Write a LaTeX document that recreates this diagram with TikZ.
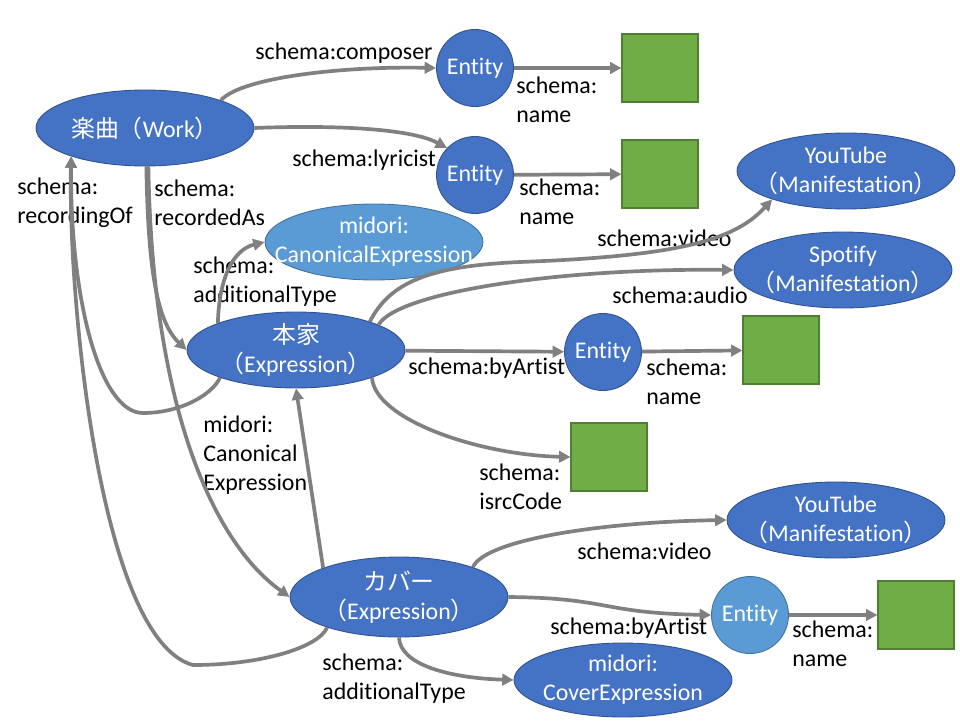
\documentclass[tikz,border=0pt]{standalone}
\usepackage{fontspec}
\setmainfont{Carlito}[Ligatures=NoCommon]
\newfontfamily\jpfont{Noto Sans CJK JP}
\usetikzlibrary{arrows.meta,shapes.geometric}

\definecolor{nodeblue}{HTML}{4472C4}
\definecolor{paleblue}{HTML}{5B9BD5}
\definecolor{nodeedge}{HTML}{2F528F}
\definecolor{paleedge}{HTML}{41719C}
\definecolor{leafgreen}{HTML}{70AD47}
\definecolor{leafedge}{HTML}{507E32}
\definecolor{linkgray}{HTML}{808080}

\begin{document}
\begin{tikzpicture}[x=0.02cm,y=-0.02cm,font=\fontsize{13.6}{16.4}\selectfont,
  blob/.style={ellipse,fill=nodeblue,draw=nodeedge,line width=0.5pt,inner sep=0pt,minimum width=4.36cm,minimum height=1.52cm},
  pale/.style={blob,fill=paleblue,draw=paleedge},
  intxt/.style={text=white,align=center,inner sep=0pt},
  ent/.style={circle,fill=nodeblue,draw=nodeedge,line width=0.5pt,inner sep=0pt,minimum size=1.54cm,text=white},
  leaf/.style={rectangle,fill=leafgreen,draw=leafedge,line width=0.6pt,minimum width=1.52cm,minimum height=1.36cm},
  link/.style={draw=linkgray,line width=2.1pt,-{Triangle[length=6.5pt,width=6.5pt]}},
  lbl/.style={anchor=base west,align=left,inner sep=0pt}]
\useasboundingbox (0,0) rectangle (960,720);

\node[blob,label={[intxt]center:{{\jpfont 楽曲（}Work{\jpfont ）}}}] (work) at (145,128) {};
\node[ent] (ent1) at (475,68) {Entity};
\node[ent] (ent2) at (475,175) {Entity};
\node[leaf] (sq1) at (660,68) {};
\node[leaf] (sq2) at (660,174) {};
\node[pale,label={[intxt]center:{midori:\\CanonicalExpression}}] (canon) at (374,242) {};
\node[blob,label={[intxt]center:{{\jpfont 本家}\\{\jpfont （}Expression{\jpfont ）}}}] (honke) at (296,350) {};
\node[blob,label={[intxt]center:{YouTube\\{\jpfont （}Manifestation{\jpfont ）}}}] (yt1) at (846,171) {};
\node[blob,label={[intxt]center:{Spotify\\{\jpfont （}Manifestation{\jpfont ）}}}] (spot) at (843,270) {};
\node[ent] (ent3) at (603,352) {Entity};
\node[leaf] (sq3) at (781,350) {};
\node[leaf] (sq4) at (609,457) {};
\node[blob,label={[intxt]center:{YouTube\\{\jpfont （}Manifestation{\jpfont ）}}}] (yt2) at (836,520) {};
\node[blob,minimum height=1.6cm,label={[intxt]center:{{\jpfont カバー}\\{\jpfont （}Expression{\jpfont ）}}}] (cover) at (399,597) {};
\node[ent,fill=paleblue,draw=paleedge] (ent4) at (750,615) {Entity};
\node[leaf] (sq5) at (916,615) {};
\node[blob,minimum height=1.48cm,label={[intxt]center:{midori:\\CoverExpression}}] (coverx) at (623,680) {};

\node[lbl] (lcomp) at (255,59) {schema:composer};
\node[lbl] (llyr) at (292,166) {schema:lyricist};
\node[lbl] (lname1) at (516,122) {schema:\\name};
\node[lbl] (lname2) at (519,224) {schema:\\name};
\node[lbl] (lrecof) at (17,223) {schema:\\recordingOf};
\node[lbl] (lrecas) at (154,225) {schema:\\recordedAs};
\node[lbl] (ltype1) at (193,302) {schema:\\additionalType};
\node[lbl] (lvid1) at (597,246) {schema:video};
\node[lbl] (laud) at (612,303) {schema:audio};
\node[lbl] (lart1) at (408,374) {schema:byArtist};
\node[lbl] (lname3) at (646,404) {schema:\\name};
\node[lbl] (lisrc) at (479,509) {schema:\\isrcCode};
\node[lbl] (lcanon) at (203,490) {midori:\\Canonical\\Expression};
\node[lbl] (lvid2) at (577,559) {schema:video};
\node[lbl] (lart2) at (550,634) {schema:byArtist};
\node[lbl] (lname4) at (792,666) {schema:\\name};
\node[lbl] (ltype2) at (322,699) {schema:\\additionalType};

\draw[link] (work.20) .. controls (240,78) and (340,66) .. (ent1.west);
\draw[link] (work.east) .. controls (330,125) and (410,128) .. (ent2.136);
\draw[link] (ent1) -- (sq1);
\draw[link] (ent2) -- (sq2);
\draw[link] (work.-88) .. controls (148,260) and (155,320) .. (honke.west);
\draw[link] (work.-85) .. controls (152,400) and (210,540) .. (cover.west);
\draw[link] (honke.200) .. controls (212,395) and (180,413) .. (143,413) .. controls (100,413) and (70,300) .. (work.201);
\draw[link] (cover.203) .. controls (318,648) and (260,665) .. (193,665) .. controls (100,640) and (68,300) .. (work.201);
\draw[link] (honke.161) .. controls (219,280) and (232,250) .. (canon.west);
\draw[link] (honke.21) .. controls (390,282) and (430,266) .. (520,262) .. controls (680,256) and (735,240) .. (yt1.201);
\draw[link] (honke.17) .. controls (398,292) and (560,268) .. (spot.west);
\draw[link] (honke) -- (ent3);
\draw[link] (ent3) -- (sq3);
\draw[link] (honke.-20) .. controls (375,420) and (480,455) .. (sq4.west);
\draw[link] (cover.159) -- (honke.south);
\draw[link] (cover.22) .. controls (485,540) and (600,522) .. (yt2.west);
\draw[link] (cover.east) .. controls (610,598) and (600,613) .. (ent4.west);
\draw[link] (ent4) -- (sq5);
\draw[link] (cover.south) .. controls (400,665) and (450,678) .. (coverx.west);
\end{tikzpicture}
\end{document}
